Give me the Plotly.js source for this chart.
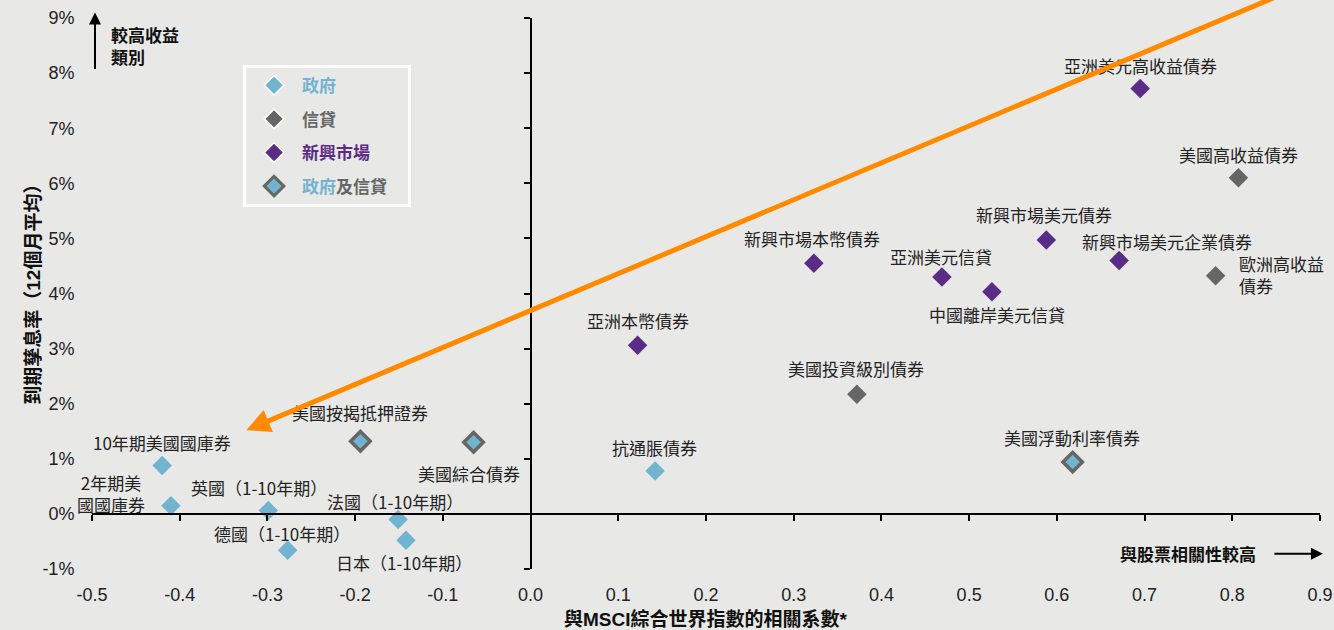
<!DOCTYPE html>
<html>
<head>
<meta charset="utf-8">
<script src="https://cdn.plot.ly/plotly-3.0.1.min.js"></script>
<style>html,body{margin:0;padding:0;background:#e8e8e6;}#chart{width:1334px;height:630px;}</style>
</head>
<body>
<div id="chart"></div>
<script>
// ---------- DATA ----------
const govNames = ['10年期美國國庫券','2年期美國國庫券','英國（1-10年期）','德國（1-10年期）','法國（1-10年期）','日本（1-10年期）','抗通脹債券'];
const govCorr  = [-0.420,-0.410,-0.299,-0.277,-0.151,-0.142,0.142];
const govYield = [0.88,0.15,0.06,-0.66,-0.10,-0.48,0.78];

const creditNames = ['美國投資級別債券','美國高收益債券','歐洲高收益債券'];
const creditCorr  = [0.372,0.807,0.781];
const creditYield = [2.17,6.10,4.32];

const emNames = ['亞洲美元高收益債券','新興市場美元債券','新興市場美元企業債券','新興市場本幣債券','亞洲美元信貸','中國離岸美元信貸','亞洲本幣債券'];
const emCorr  = [0.695,0.588,0.671,0.323,0.469,0.526,0.122];
const emYield = [7.72,4.97,4.60,4.55,4.30,4.03,3.06];

const gcNames = ['美國按揭抵押證券','美國綜合債券','美國浮動利率債券'];
const gcCorr  = [-0.194,-0.065,0.618];
const gcYield = [1.32,1.30,0.94];

// trend arrow: tail -> head
const arrowCorr  = [0.87,-0.324];
const arrowYield = [9.52,1.52];

const xTickVals = [-0.5,-0.4,-0.3,-0.2,-0.1,0.0,0.1,0.2,0.3,0.4,0.5,0.6,0.7,0.8,0.9];
const xTickText = ['-0.5','-0.4','-0.3','-0.2','-0.1','0.0','0.1','0.2','0.3','0.4','0.5','0.6','0.7','0.8','0.9'];
const yTickVals = [-1,0,1,2,3,4,5,6,7,8,9];
const yTickText = ['-1%','0%','1%','2%','3%','4%','5%','6%','7%','8%','9%'];

const xRange = [-0.5,0.9];
const yRange = [-1,9];

// ---------- STYLE / LABEL PLACEMENT ----------
const C_GOV = '#72B3CF', C_CREDIT = '#666666', C_EM = '#5B2C86', C_ORANGE = '#FF8A00';
const BG = '#e8e8e6';
const CJK = 'Noto Sans CJK TC, Liberation Sans, sans-serif';
const LAT = 'Liberation Sans, Arial, sans-serif';
const TITLE = 'Liberation Sans, Noto Sans CJK TC, sans-serif';

const labelText = {'2年期美國國庫券':'2年期美<br>國國庫券','歐洲高收益債券':'歐洲高收益<br>債券'};
const labelShift = {
 '10年期美國國庫券':[0,23], '2年期美國國庫券':[-60,12.5], '英國（1-10年期）':[-9,23],
 '德國（1-10年期）':[-5.5,17], '法國（1-10年期）':[-3,18], '日本（1-10年期）':[-2,-22],
 '抗通脹債券':[-1,23], '美國投資級別債券':[-1,25.7], '美國高收益債券':[0,23],
 '歐洲高收益債券':[21,1,'left'], '亞洲美元高收益債券':[0,22.6], '新興市場美元債券':[-2,25.7],
 '新興市場美元企業債券':[48,18.6], '新興市場本幣債券':[-1.5,24.7], '亞洲美元信貸':[-1,20],
 '中國離岸美元信貸':[5,-23], '亞洲本幣債券':[0,25], '美國按揭抵押證券':[0,29],
 '美國綜合債券':[-4.5,-31], '美國浮動利率債券':[-1,24.4]
};

function pts(names, xs, ys, color, line) {
  return {x: xs, y: ys, text: names, type: 'scatter', mode: 'markers', showlegend: false,
    hovertemplate: '%{text}<br>%{x:.2f}, %{y:.2f}%<extra></extra>',
    marker: {symbol: 'diamond', size: 15, color: color, line: line || {width: 0}}};
}
function leg(name, color, line, g) {
  return {x: [null], y: [null], type: 'scatter', mode: 'markers', name: name, legendgroup: g,
    marker: {symbol: 'diamond', size: 15, color: color, line: line}, hoverinfo: 'skip'};
}

const data = [
  pts(govNames, govCorr, govYield, C_GOV),
  pts(creditNames, creditCorr, creditYield, C_CREDIT),
  pts(emNames, emCorr, emYield, C_EM),
  pts(gcNames, gcCorr, gcYield, C_GOV, {color: C_CREDIT, width: 3.5}),
  leg('<span style="color:' + C_GOV + '">政府</span>', C_GOV, {color: '#ffffff', width: 1.5}, 'a'),
  leg('信貸', C_CREDIT, {color: '#ffffff', width: 1.5}, 'b'),
  leg('<span style="color:' + C_EM + '">新興市場</span>', C_EM, {color: '#ffffff', width: 1.5}, 'c'),
  leg('<span style="color:' + C_GOV + '">政府</span>及信貸\u00a0\u00a0\u00a0\u00a0', C_GOV, {color: C_CREDIT, width: 3}, 'd'),
  {x: [null], y: [null], xaxis: 'x2', yaxis: 'y2', type: 'scatter', mode: 'markers', showlegend: false, hoverinfo: 'skip'}
];

const annotations = [];
[[govNames, govCorr, govYield], [creditNames, creditCorr, creditYield], [emNames, emCorr, emYield], [gcNames, gcCorr, gcYield]].forEach(function (s) {
  s[0].forEach(function (n, i) {
    const sh = labelShift[n] || [0, 24];
    annotations.push({x: s[1][i], y: s[2][i], xref: 'x', yref: 'y', text: labelText[n] || n, showarrow: false,
      xshift: sh[0], yshift: sh[1], xanchor: sh[2] || 'center', align: sh[2] || 'center', yanchor: 'middle',
      font: {family: CJK, size: 17, color: '#222'}});
  });
});

// orange trend arrow
annotations.push({x: arrowCorr[1], y: arrowYield[1], ax: arrowCorr[0], ay: arrowYield[0], xref: 'x', yref: 'y', axref: 'x', ayref: 'y',
  text: '', showarrow: true, arrowhead: 2, arrowsize: 0.95, arrowwidth: 5, arrowcolor: C_ORANGE, standoff: 0});

// axis direction notes
annotations.push({x: 0.00244, y: 1.0101, xref: 'paper', yref: 'paper', ax: 0, ay: 58, text: '', showarrow: true,
  arrowhead: 2, arrowsize: 1.2, arrowwidth: 2, arrowcolor: '#000', standoff: 0});
annotations.push({x: 0.0138, y: 0.9506, xref: 'paper', yref: 'paper', text: '較高收益<br>類別', showarrow: false,
  xanchor: 'left', yanchor: 'middle', align: 'left', font: {family: CJK, size: 17, color: '#111', weight: 'bold'}});
annotations.push({x: 1.0024, y: 0.0278, xref: 'paper', yref: 'paper', ax: -50, ay: 0, text: '', showarrow: true,
  arrowhead: 2, arrowsize: 1.2, arrowwidth: 2, arrowcolor: '#000', standoff: 0});
annotations.push({x: 0.9495, y: 0.0278, xref: 'paper', yref: 'paper', text: '與股票相關性較高', showarrow: false,
  xanchor: 'right', yanchor: 'middle', font: {family: CJK, size: 17, color: '#111', weight: 'bold'}});
// axis titles
annotations.push({x: 0.5, y: -0.090, xref: 'paper', yref: 'paper', text: '與MSCI綜合世界指數的相關系數*', showarrow: false,
  xanchor: 'center', yanchor: 'middle', font: {family: TITLE, size: 19, color: '#111', weight: 'bold'}});
annotations.push({x: -0.048, y: 0.507, xref: 'paper', yref: 'paper', text: '到期孳息率（12個月平均）', showarrow: false,
  textangle: -90, xanchor: 'center', yanchor: 'middle', font: {family: TITLE, size: 19, color: '#111', weight: 'bold'}});

const xZeroPos = (0 - yRange[0]) / (yRange[1] - yRange[0]);
const yZeroPos = (0 - xRange[0]) / (xRange[1] - xRange[0]);

const layout = {
  width: 1334, height: 630,
  margin: {l: 92, r: 14, t: 18, b: 61},
  paper_bgcolor: BG, plot_bgcolor: BG,
  hovermode: 'closest',
  xaxis: {range: xRange, tickvals: xTickVals, ticktext: xTickText, showgrid: false, zeroline: false, showline: false,
    ticks: 'outside', ticklen: 9, tickcolor: 'rgba(0,0,0,0)', tickfont: {family: LAT, size: 18, color: '#222'}, fixedrange: true},
  yaxis: {range: yRange, tickvals: yTickVals, ticktext: yTickText, showgrid: false, zeroline: false, showline: false,
    ticks: 'outside', ticklen: 13, tickcolor: 'rgba(0,0,0,0)', tickfont: {family: LAT, size: 18, color: '#222'}, fixedrange: true},
  xaxis2: {overlaying: 'x', anchor: 'free', position: xZeroPos, side: 'bottom', range: xRange, tickvals: xTickVals,
    showticklabels: false, ticks: 'outside', ticklen: 6, tickwidth: 1.5, tickcolor: '#000', showline: true, linecolor: '#000', linewidth: 2,
    showgrid: false, zeroline: false, fixedrange: true},
  yaxis2: {overlaying: 'y', anchor: 'free', position: yZeroPos, side: 'left', range: yRange, tickvals: yTickVals,
    showticklabels: false, ticks: 'outside', ticklen: 6, tickwidth: 1.5, tickcolor: '#000', showline: true, linecolor: '#000', linewidth: 2,
    showgrid: false, zeroline: false, fixedrange: true},
  legend: {x: 0.123, y: 0.9152, xanchor: 'left', yanchor: 'top', bgcolor: BG, bordercolor: '#ffffff', borderwidth: 3,
    font: {family: CJK, size: 17, color: '#666', weight: 'bold'}, tracegroupgap: 8.5, itemwidth: 46, traceorder: 'grouped'},
  annotations: annotations,
  showlegend: true
};

Plotly.newPlot('chart', data, layout, {displayModeBar: false, staticPlot: false});
</script>
</body>
</html>
